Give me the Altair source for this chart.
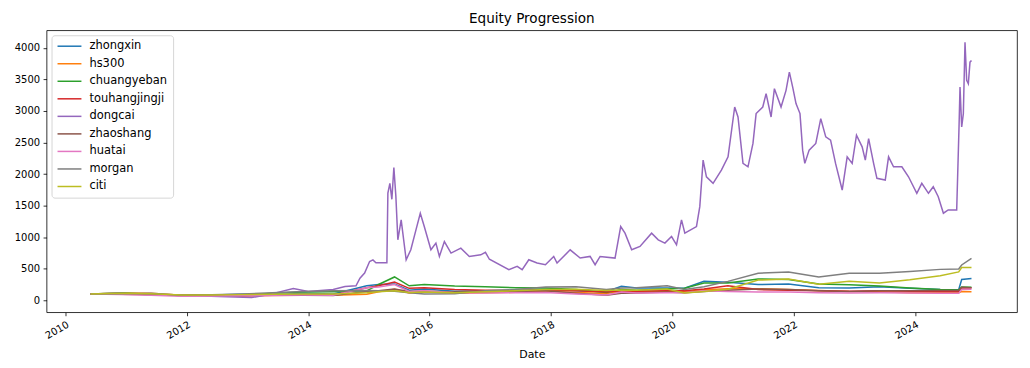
import altair as alt
import pandas as pd

series_names = ["zhongxin", "hs300", "chuangyeban", "touhangjingji", "dongcai",
                "zhaoshang", "huatai", "morgan", "citi"]
colors = ["#1f77b4", "#ff7f0e", "#2ca02c", "#d62728", "#9467bd",
          "#8c564b", "#e377c2", "#7f7f7f", "#bcbd22"]

# shared date grid for the smaller series
grid_dates = ["2010-06-01", "2010-12-01", "2011-06-01", "2011-12-01", "2012-06-01", "2012-12-01",
              "2013-06-01", "2013-12-01", "2014-06-01", "2014-12-20", "2015-03-01", "2015-06-05",
              "2015-09-01", "2015-12-01", "2016-06-01", "2016-12-01", "2017-06-01", "2017-12-01",
              "2018-06-01", "2018-12-01", "2019-03-01", "2019-06-01", "2019-12-01", "2020-03-15",
              "2020-07-10", "2020-12-01", "2021-06-01", "2021-12-01", "2022-06-01", "2022-12-01",
              "2023-06-01", "2023-12-01", "2024-06-01", "2024-09-20", "2024-10-08", "2024-12-06"]

zhongxin = [100, 105, 90, 75, 85, 95, 85, 110, 100, 230, 250, 260, 160, 180, 145, 150, 155, 175,
            150, 135, 221, 195, 196, 190, 300, 285, 250, 258, 200, 196, 215, 190, 172, 168, 330, 345]
hs300 = [100, 115, 110, 82, 87, 90, 82, 88, 79, 95, 135, 175, 115, 130, 110, 118, 128, 145,
         125, 108, 140, 138, 146, 135, 168, 182, 184, 172, 155, 138, 136, 121, 125, 118, 140, 135]
chuangyeban = [100, 115, 95, 75, 85, 80, 110, 130, 135, 150, 250, 370, 230, 250, 225, 215, 200, 195,
               170, 125, 170, 160, 180, 190, 275, 275, 338, 330, 260, 245, 225, 195, 172, 165, 210, 205]
touhangjingji = [100, 95, 90, 80, 75, 70, 75, 80, 85, 200, 230, 290, 190, 200, 170, 160, 155, 160,
                 150, 130, 150, 145, 150, 150, 180, 230, 170, 160, 150, 145, 150, 145, 140, 140, 200, 195]
zhaoshang = [100, 100, 90, 75, 80, 85, 80, 80, 75, 140, 150, 180, 140, 145, 130, 135, 140, 150,
             110, 80, 110, 115, 130, 120, 140, 160, 180, 170, 150, 140, 150, 150, 155, 155, 205, 200]
huatai = [100, 90, 80, 65, 70, 75, 80, 85, 80, 200, 210, 250, 140, 150, 120, 115, 120, 125,
          100, 85, 130, 115, 120, 120, 150, 140, 130, 130, 120, 115, 120, 116, 110, 110, 170, 175]
morgan = [100, 105, 110, 80, 90, 100, 120, 140, 150, 155, 150, 145, 120, 100, 105, 150, 170, 210,
          215, 170, 195, 200, 230, 170, 215, 300, 430, 450, 370, 430, 430, 455, 490, 495, 560, 665]
citi = [100, 110, 105, 85, 85, 90, 95, 100, 100, 120, 135, 150, 125, 130, 120, 135, 150, 170,
        175, 155, 165, 160, 180, 116, 140, 175, 320, 338, 255, 300, 275, 325, 390, 450, 520, 520]

# dongcai has its own, denser dates
dongcai_dates = [
    "2010-06-01", "2010-11-20", "2011-05-19", "2012-01-14", "2012-07-12",
    "2013-01-26", "2013-05-08", "2013-10-04", "2014-01-02", "2014-06-01",
    "2014-08-11", "2014-10-16", "2014-11-09", "2014-12-07", "2015-01-06",
    "2015-01-26", "2015-02-13", "2015-04-20", "2015-04-26", "2015-05-08",
    "2015-05-20", "2015-06-01", "2015-06-13", "2015-06-25", "2015-07-15",
    "2015-08-14", "2015-09-11", "2015-10-12", "2015-11-07", "2015-12-01",
    "2016-01-10", "2016-02-09", "2016-03-01", "2016-03-31", "2016-05-10",
    "2016-07-08", "2016-08-28", "2016-11-05", "2016-12-03", "2016-12-27",
    "2017-04-23", "2017-06-12", "2017-07-12", "2017-08-21", "2017-10-10",
    "2017-11-29", "2018-01-18", "2018-02-07", "2018-04-27", "2018-06-26",
    "2018-08-25", "2018-09-24", "2018-10-24", "2019-01-22", "2019-02-25",
    "2019-03-23", "2019-05-02", "2019-06-21", "2019-08-30", "2019-10-09",
    "2019-11-18", "2019-12-28", "2020-01-27", "2020-02-26", "2020-03-17",
    "2020-05-26", "2020-06-15", "2020-07-05", "2020-07-25", "2020-09-03",
    "2020-10-23", "2020-12-02", "2021-01-11", "2021-01-31", "2021-03-02",
    "2021-04-01", "2021-05-01", "2021-05-20", "2021-06-29", "2021-07-19",
    "2021-08-18", "2021-09-07", "2021-10-17", "2021-11-16", "2021-12-06",
    "2021-12-26", "2022-01-15", "2022-02-08", "2022-02-24", "2022-03-09",
    "2022-04-04", "2022-05-14", "2022-06-13", "2022-07-13", "2022-08-11",
    "2022-09-10", "2022-10-20", "2022-11-19", "2022-12-19", "2023-01-14",
    "2023-02-17", "2023-03-08", "2023-03-28", "2023-04-27", "2023-05-17",
    "2023-07-06", "2023-07-26", "2023-08-25", "2023-10-14", "2023-11-23",
    "2024-01-12", "2024-02-11", "2024-03-22", "2024-04-20", "2024-05-20",
    "2024-06-20", "2024-07-19", "2024-09-08", "2024-09-22", "2024-09-28",
    "2024-10-08", "2024-10-18", "2024-10-28", "2024-11-07", "2024-11-17",
    "2024-11-27", "2024-12-06"]
dongcai = [
    100, 110, 90, 75, 60,
    43, 90, 185, 140, 170,
    220, 230, 350, 432, 615,
    640, 595, 595, 1700, 1853,
    1600, 2105, 1650, 958, 1274,
    642, 800, 1116, 1380, 1168,
    800, 906, 695, 931, 748,
    827, 695, 721, 760, 650,
    485, 537, 485, 642, 590,
    564, 695, 590, 800, 669,
    695, 564, 695, 669, 1168,
    1063, 800, 853, 1063, 958,
    906, 1010, 879, 1274, 1063,
    1168, 1484, 2221, 1957, 1853,
    2063, 2273, 3062, 2904, 2169,
    2115, 2485, 2958, 3062, 3274,
    2904, 3353, 3062, 3326, 3615,
    3378, 3116, 2958, 2379, 2169,
    2379, 2485, 2879, 2589, 2537,
    2169, 1747, 2273, 2169, 2616,
    2431, 2221, 2563, 2169, 1932,
    1905, 2273, 2115, 2115, 1957,
    1695, 1853, 1695, 1800, 1642,
    1380, 1432, 1432, 2747, 3378,
    2747, 2958, 4089, 3484, 3431,
    3773, 3800]

x_tick_years = [2010, 2012, 2014, 2016, 2018, 2020, 2022, 2024]
y_ticks = [0, 500, 1000, 1500, 2000, 2500, 3000, 3500, 4000]

series_values = {
    "zhongxin": (grid_dates, zhongxin),
    "hs300": (grid_dates, hs300),
    "chuangyeban": (grid_dates, chuangyeban),
    "touhangjingji": (grid_dates, touhangjingji),
    "dongcai": (dongcai_dates, dongcai),
    "zhaoshang": (grid_dates, zhaoshang),
    "huatai": (grid_dates, huatai),
    "morgan": (grid_dates, morgan),
    "citi": (grid_dates, citi),
}

frames = []
for name in series_names:
    d, v = series_values[name]
    frames.append(pd.DataFrame({"Date": d, "value": v, "series": name}))
df = pd.concat(frames, ignore_index=True)

FONT = "DejaVu Sans"

chart = alt.Chart(df).mark_line(strokeWidth=1.5).encode(
    x=alt.X("Date:T",
            scale=alt.Scale(domain=[alt.DateTime(year=2009, month=9, date=10),
                                    alt.DateTime(year=2025, month=9, date=6)], nice=False),
            axis=alt.Axis(values=[alt.DateTime(year=y, month=1, date=1) for y in x_tick_years],
                          format="%Y", labelAngle=330, labelAlign="right", labelBaseline="top",
                          title="Date", titlePadding=8, titleFontSize=11)),
    y=alt.Y("value:Q",
            scale=alt.Scale(domain=[-189, 4278], nice=False, zero=False),
            axis=alt.Axis(values=y_ticks, format="d", title=None)),
    color=alt.Color("series:N",
                    scale=alt.Scale(domain=series_names, range=colors),
                    legend=alt.Legend(orient="none", legendX=5, legendY=5, title=None,
                                      symbolType="M-2.4,0H2.4", symbolSize=100,
                                      symbolStrokeWidth=1.5, symbolOffset=7,
                                      labelOffset=14, labelFontSize=11.5, labelFont=FONT,
                                      labelColor="black", rowPadding=5.6, padding=5,
                                      strokeColor="#d6d6d6", fillColor="white",
                                      cornerRadius=3)),
).properties(
    width=974, height=283,
    title=alt.TitleParams("Equity Progression", fontSize=13.6, font=FONT, fontWeight="normal",
                          color="black", anchor="middle", offset=5),
    autosize=alt.AutoSizeParams(type="none"),
    padding={"left": 38.7, "top": 21.7, "right": 5, "bottom": 54},
).configure_view(
    stroke="black", strokeWidth=0.8
).configure_axis(
    grid=False, domain=False, tickColor="black", tickWidth=0.8, tickSize=3.5,
    labelPadding=3.5, labelFont=FONT, labelFontSize=10, labelColor="black",
    titleFont=FONT, titleFontSize=10, titleFontWeight="normal", titleColor="black"
)

chart.save("out.html", embed_options={"renderer": "svg", "actions": False})
